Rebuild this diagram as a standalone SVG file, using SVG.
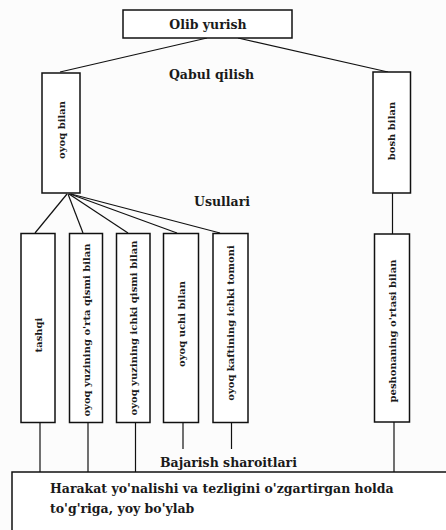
<svg xmlns="http://www.w3.org/2000/svg" width="446" height="530" viewBox="0 0 446 530">
  <style>
    .box { fill: #ffffff; stroke: #111; stroke-width: 1.5; }
    .con { stroke: #111; stroke-width: 1.2; fill: none; }
    .lbl { font-family: "DejaVu Serif", "Liberation Serif", serif; font-size: 12.5px; font-weight: bold; fill: #1a1a1a; }
    .vt { font-family: "DejaVu Serif", "Liberation Serif", serif; font-size: 10px; font-weight: bold; fill: #1a1a1a; text-anchor: middle; dominant-baseline: central; }
  </style>
  <rect x="0" y="0" width="446" height="530" fill="#fcfcfc"/>

  <!-- connectors -->
  <g id="connectors" class="con">
    <line x1="207" y1="38" x2="60" y2="72"/>
    <line x1="238" y1="38" x2="388" y2="72"/>
    <line x1="67" y1="194" x2="35" y2="233"/>
    <line x1="68" y1="194" x2="83" y2="233"/>
    <line x1="69" y1="194" x2="128" y2="233"/>
    <line x1="70" y1="194" x2="177" y2="233"/>
    <line x1="71" y1="194" x2="220" y2="233"/>
    <line x1="392.5" y1="193" x2="392.5" y2="234"/>
    <line x1="40" y1="422" x2="40" y2="472"/>
    <line x1="88" y1="422" x2="88" y2="472"/>
    <line x1="135.5" y1="422" x2="135.5" y2="472"/>
    <line x1="183" y1="422" x2="183" y2="449"/>
    <line x1="231.5" y1="422" x2="231.5" y2="449"/>
    <line x1="394" y1="422" x2="394" y2="472"/>
  </g>

  <!-- root -->
  <g id="olib-yurish">
    <rect class="box" x="123" y="10" width="169" height="28"/>
    <text class="lbl" x="208" y="28.5" text-anchor="middle">Olib yurish</text>
  </g>

  <text id="qabul-qilish" class="lbl" x="211.5" y="78.5" text-anchor="middle">Qabul qilish</text>

  <g id="oyoq-bilan">
    <rect class="box" x="42" y="73" width="38" height="120"/>
    <text class="vt" transform="translate(61,130) rotate(-90)">oyoq bilan</text>
  </g>

  <g id="bosh-bilan">
    <rect class="box" x="373" y="72" width="37.5" height="121"/>
    <text class="vt" transform="translate(391.5,131) rotate(-90)">bosh bilan</text>
  </g>

  <text id="usullari" class="lbl" x="222" y="206" text-anchor="middle">Usullari</text>

  <g id="tashqi">
    <rect class="box" x="21" y="233.5" width="34" height="189"/>
    <text class="vt" transform="translate(38,335) rotate(-90)">tashqi</text>
  </g>

  <g id="orta-qismi">
    <rect class="box" x="69.5" y="233.5" width="33" height="189"/>
    <text class="vt" transform="translate(86,330) rotate(-90)">oyoq yuzining o'rta qismi bilan</text>
  </g>

  <g id="ichki-qismi">
    <rect class="box" x="116.5" y="233.5" width="33.5" height="189"/>
    <text class="vt" transform="translate(133,328) rotate(-90)">oyoq yuzining ichki qismi bilan</text>
  </g>

  <g id="uchi-bilan">
    <rect class="box" x="163.5" y="233.5" width="35" height="189"/>
    <text class="vt" transform="translate(181,324) rotate(-90)">oyoq uchi bilan</text>
  </g>

  <g id="kaft-ichki">
    <rect class="box" x="213" y="233.5" width="35" height="189"/>
    <text class="vt" transform="translate(230.5,323) rotate(-90)">oyoq kaftining ichki tomoni</text>
  </g>

  <g id="peshona">
    <rect class="box" x="374.5" y="234" width="35" height="188"/>
    <text class="vt" transform="translate(392,331) rotate(-90)">peshonaning o'rtasi bilan</text>
  </g>

  <text id="bajarish" class="lbl" x="160" y="467">Bajarish sharoitlari</text>

  <g id="harakat">
    <rect class="box" x="12" y="472" width="440" height="70"/>
    <text class="lbl" x="50" y="493" font-size="12.9">Harakat yo'nalishi va tezligini o'zgartirgan holda</text>
    <text class="lbl" x="50" y="513" font-size="12.9">to'g'riga, yoy bo'ylab</text>
  </g>
</svg>
